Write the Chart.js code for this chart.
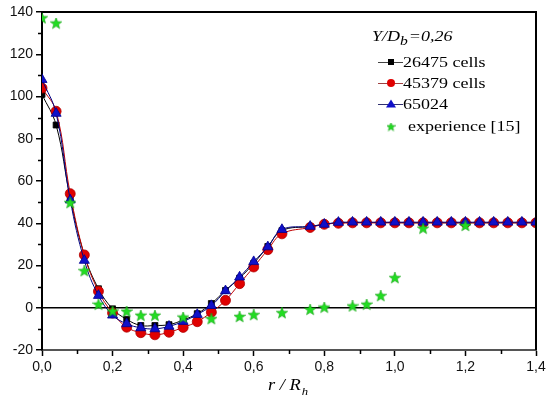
<!DOCTYPE html>
<html>
<head>
<meta charset="utf-8">
<script src="https://cdn.jsdelivr.net/npm/chart.js@4.4.1/dist/chart.umd.min.js"></script>
<style>
  html, body { margin: 0; padding: 0; background: #fff; }
  #wrap { width: 549px; height: 405px; }
</style>
</head>
<body>
<div id="wrap"><canvas id="c" width="549" height="405"></canvas></div>
<script>
// ---- data ----
const xCFD = [0,0.04,0.08,0.12,0.16,0.20,0.24,0.28,0.32,0.36,0.40,0.44,0.48,0.52,0.56,0.60,0.64,0.68,0.76,0.80,0.84,0.88,0.92,0.96,1.00,1.04,1.08,1.12,1.16,1.20,1.24,1.28,1.32,1.36,1.40];
const cells26475 = [101,86.5,52,25,9,-0.5,-5.5,-8.4,-8.4,-8,-5.8,-2.8,2,8.2,14,21,29,36.5,38.5,39.5,40.2,40.3,40.3,40.3,40.3,40.2,40.2,40.2,40.2,40.2,40.2,40.2,40.2,40.2,40.2];
const cells45379 = [104,93,54,25,7.8,-2.5,-9.2,-11.8,-12.8,-11.6,-9.3,-6.6,-2.1,3.5,11.4,19.3,27.5,35,38,39.5,40,40.2,40.2,40.2,40.2,40.2,40.2,40.2,40.2,40.2,40.2,40.2,40.2,40.2,40.2];
const cells65024 = [108,92,51,22.4,5.8,-3.5,-7.6,-9.5,-10,-8.8,-6.5,-3.2,1,8,14.5,21.8,28.8,37,38.5,39.5,40.4,40.5,40.5,40.5,40.5,40.5,40.5,40.5,40.5,40.5,40.5,40.5,40.5,40.5,40.5];
const xExp = [0,0.04,0.08,0.12,0.16,0.20,0.24,0.28,0.32,0.40,0.48,0.56,0.60,0.68,0.76,0.80,0.88,0.92,0.96,1.00,1.08,1.20];
const experience = [137,134.5,49.5,17.3,1.4,-1.8,-1.9,-3.8,-3.8,-4.7,-5.4,-4.4,-3.5,-2.6,-1,0,0.6,1.4,5.5,14,37.4,38.7];
const seriesNames = ['26475 cells','45379 cells','65024','experience [15]'];
const yTickValues = [-20,0,20,40,60,80,100,120,140];
const xTickValues = [0,0.2,0.4,0.6,0.8,1.0,1.2,1.4];

const GREEN = '#22dd22';
function makeStar(size, color) {
  const cv = document.createElement('canvas');
  cv.width = size; cv.height = size;
  const g = cv.getContext('2d');
  const cx = size/2, cy = size/2, R = size/2, r = R*0.42;
  g.beginPath();
  for (let i = 0; i < 10; i++) {
    const a = -Math.PI/2 + i*Math.PI/5;
    const rr = i % 2 ? r : R;
    g.lineTo(cx + rr*Math.cos(a), cy + rr*Math.sin(a));
  }
  g.closePath();
  g.fillStyle = color; g.fill();
  g.strokeStyle = '#10a010'; g.lineWidth = 0.6; g.stroke();
  return cv;
}
const starImg = makeStar(12, GREEN);
const starSmall = makeStar(9, GREEN);

const pts = (xs, ys) => xs.map((x, i) => ({x: x, y: ys[i]}));

const seriesStyle = [
  {line:'#000000', fill:'#000000', edge:'#000000', style:'rect', r:4.2},
  {line:'#c00000', fill:'#e00000', edge:'#b00000', style:'circle', r:5},
  {line:'#000080', fill:'#1010c8', edge:'#000090', style:'triangle', r:5.8}
];
const cfdVals = [cells26475, cells45379, cells65024];

const datasets = [{
  label: seriesNames[3],
  data: pts(xExp, experience),
  showLine: false,
  pointStyle: starImg,
  pointRadius: 6,
  order: 0
}];
for (let k = 2; k >= 0; k--) {
  const s = seriesStyle[k];
  datasets.push({
    label: seriesNames[k],
    data: pts(xCFD, cfdVals[k]),
    showLine: true,
    tension: 0.4,
    borderColor: s.line,
    borderWidth: 1,
    backgroundColor: s.fill,
    pointBackgroundColor: s.fill,
    pointBorderColor: s.edge,
    pointBorderWidth: 0.8,
    pointStyle: s.style,
    pointRadius: s.r,
    order: 3 - k
  });
}

function drawText(ctx, str, x, y, font, sx) {
  ctx.save();
  ctx.font = font;
  ctx.translate(x, y);
  ctx.scale(sx, 1);
  ctx.fillText(str, 0, 0);
  const w = ctx.measureText(str).width * sx;
  ctx.restore();
  return w;
}

const decor = {
  id: 'decor',
  afterDraw(chart) {
    const ctx = chart.ctx;
    const a = chart.chartArea;
    const xs = chart.scales.x, ys = chart.scales.y;
    ctx.save();
    // top and right frame
    ctx.strokeStyle = '#000';
    ctx.lineWidth = 2;
    ctx.beginPath();
    ctx.moveTo(a.left, a.top); ctx.lineTo(a.right, a.top); ctx.lineTo(a.right, a.bottom);
    ctx.stroke();
    // minor ticks
    ctx.lineWidth = 1.5;
    ctx.strokeStyle = '#000';
    ctx.beginPath();
    for (let v = -10; v < 140; v += 20) {
      const py = Math.round(ys.getPixelForValue(v)) + 0.5;
      ctx.moveTo(a.left - 4, py); ctx.lineTo(a.left, py);
    }
    for (let v = 0.1; v < 1.4; v += 0.2) {
      const px = Math.round(xs.getPixelForValue(v)) + 0.5;
      ctx.moveTo(px, a.bottom); ctx.lineTo(px, a.bottom + 4);
    }
    ctx.stroke();

    // x axis title  r / R_h
    ctx.fillStyle = '#000';
    ctx.textBaseline = 'alphabetic';
    let tx = 268;
    tx += drawText(ctx, 'r / R', tx, 390, 'italic 16px "Liberation Serif"', 1.15);
    drawText(ctx, 'h', tx + 1, 395, 'italic 11px "Liberation Serif"', 1.15);

    // legend title  Y/D_b=0,26
    let lx = 372;
    lx += drawText(ctx, 'Y/D', lx, 41, 'italic 15px "Liberation Serif"', 1.2);
    lx += drawText(ctx, 'b', lx, 45, 'italic 13px "Liberation Serif"', 1.2);
    drawText(ctx, '=0,26', lx + 1, 41, 'italic 15px "Liberation Serif"', 1.2);

    // legend entries
    const rows = [62, 83, 104];
    for (let k = 0; k < 3; k++) {
      const s = seriesStyle[k];
      const cy = rows[k];
      ctx.strokeStyle = k === 0 ? '#444' : (k === 1 ? '#a04040' : '#303070');
      ctx.lineWidth = 1;
      ctx.beginPath();
      ctx.moveTo(378, cy + 0.5); ctx.lineTo(403, cy + 0.5);
      ctx.stroke();
      ctx.fillStyle = s.fill;
      ctx.strokeStyle = s.edge;
      ctx.beginPath();
      if (k === 0) {
        ctx.rect(388, cy - 3, 6, 6);
      } else if (k === 1) {
        ctx.arc(391, cy, 4, 0, Math.PI * 2);
      } else {
        ctx.moveTo(391, cy - 4.5); ctx.lineTo(396, cy + 3.5); ctx.lineTo(386, cy + 3.5); ctx.closePath();
      }
      ctx.fill();
      ctx.fillStyle = '#000';
      drawText(ctx, seriesNames[k], 403, cy + 5, '15px "Liberation Serif"', 1.2);
    }
    ctx.drawImage(starSmall, 391 - 4.5, 127 - 4.5);
    ctx.fillStyle = '#000';
    drawText(ctx, seriesNames[3], 408, 131, '15px "Liberation Serif"', 1.2);
    ctx.restore();
  }
};

new Chart(document.getElementById('c'), {
  type: 'scatter',
  data: { datasets: datasets },
  options: {
    responsive: false,
    animation: false,
    devicePixelRatio: 1,
    layout: { padding: { top: 12, right: 13, left: 0, bottom: 0 } },
    plugins: { legend: { display: false }, tooltip: { enabled: false } },
    scales: {
      x: {
        type: 'linear',
        min: 0, max: 1.4,
        afterFit(s) { s.height = 55; },
        afterBuildTicks(s) { s.ticks = xTickValues.map(v => ({value: v})); },
        ticks: {
          padding: 3,
          color: '#111',
          font: { family: '"Liberation Sans", Arial', size: 14 },
          callback: v => Number(v).toFixed(1).replace('.', ',')
        },
        grid: { drawOnChartArea: false, tickLength: 6, tickColor: '#000', tickWidth: 1.5 },
        border: { color: '#555', width: 2 }
      },
      y: {
        type: 'linear',
        min: -20, max: 140,
        afterFit(s) { s.width = 42; },
        afterBuildTicks(s) { s.ticks = yTickValues.map(v => ({value: v})); },
        ticks: {
          padding: 3,
          color: '#111',
          font: { family: '"Liberation Sans", Arial', size: 14 },
          callback: v => String(v)
        },
        grid: {
          drawOnChartArea: true,
          color: c => (c.tick && c.tick.value === 0) ? '#000' : 'rgba(0,0,0,0)',
          lineWidth: 1.5,
          tickLength: 6, tickColor: '#000', tickWidth: 1.5
        },
        border: { color: '#000', width: 2 }
      }
    }
  },
  plugins: [decor]
});
</script>
</body>
</html>
